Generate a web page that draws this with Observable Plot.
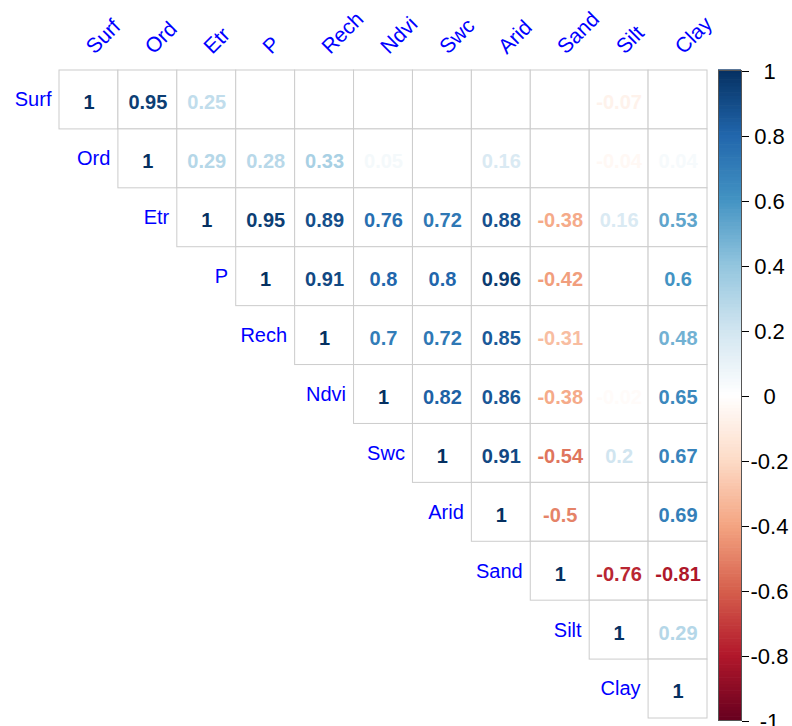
<!DOCTYPE html>
<html><head><meta charset="utf-8">
<script src="https://cdn.jsdelivr.net/npm/d3@7"></script>
<script src="https://cdn.jsdelivr.net/npm/@observablehq/plot@0.6"></script>
<style>
body{margin:0;background:#fff}
#wrap{position:relative;width:792px;height:726px;overflow:hidden}
#wrap svg{position:absolute;top:0}
</style>
</head><body><div id="wrap"></div>
<script>
const variables = ["Surf","Ord","Etr","P","Rech","Ndvi","Swc","Arid","Sand","Silt","Clay"];
// each row starts at its diagonal cell; null = blank cell (no value shown)
const rowSurf = [1, 0.95, 0.25, null, null, null, null, null, null, -0.07, null];
const rowOrd  = [1, 0.29, 0.28, 0.33, 0.05, null, 0.16, null, -0.04, 0.04];
const rowEtr  = [1, 0.95, 0.89, 0.76, 0.72, 0.88, -0.38, 0.16, 0.53];
const rowP    = [1, 0.91, 0.8, 0.8, 0.96, -0.42, null, 0.6];
const rowRech = [1, 0.7, 0.72, 0.85, -0.31, null, 0.48];
const rowNdvi = [1, 0.82, 0.86, -0.38, -0.02, 0.65];
const rowSwc  = [1, 0.91, -0.54, 0.2, 0.67];
const rowArid = [1, -0.5, null, 0.69];
const rowSand = [1, -0.76, -0.81];
const rowSilt = [1, 0.29];
const rowClay = [1];
const legendTicks = [-1, -0.8, -0.6, -0.4, -0.2, 0, 0.2, 0.4, 0.6, 0.8, 1];
const paletteColors = ["#67001F","#B2182B","#D6604D","#F4A582","#FDDBC7","#FFFFFF","#D1E5F0","#92C5DE","#4393C3","#2166AC","#053061"];

const rows = [rowSurf,rowOrd,rowEtr,rowP,rowRech,rowNdvi,rowSwc,rowArid,rowSand,rowSilt,rowClay];
const cells = rows.flatMap((r, i) => r.map((v, k) => ({row: variables[i], col: variables[i + k], value: v})));
const colorScale = {type: "linear", domain: legendTicks, range: paletteColors};

const main = Plot.plot({
  width: 792, height: 726,
  marginLeft: 59, marginRight: 85, marginTop: 70, marginBottom: 8,
  x: {domain: variables, padding: 0, round: false, axis: null},
  y: {domain: variables, padding: 0, round: false, axis: null},
  color: colorScale,
  style: {fontFamily: "Liberation Sans, Arial, sans-serif", background: "transparent"},
  marks: [
    Plot.cell(cells, {x: "col", y: "row", fill: "white", stroke: "#cccccc"}),
    Plot.text(cells.filter(d => d.value != null), {x: "col", y: "row", text: d => String(d.value), fill: "value", fontSize: 20, fontWeight: "bold", dy: 3}),
    Plot.text(variables, {x: d => d, y: d => d, text: d => d, textAnchor: "end", dx: -37.5, fill: "#0000FF", fontSize: 20}),
    Plot.text(variables, {x: d => d, frameAnchor: "top", text: d => d, rotate: -45, textAnchor: "start", dx: -5, dy: -26, fill: "#0000FF", fontSize: 21})
  ]
});

const gradientSteps = d3.range(-1, 1, 0.01);
const bar = Plot.plot({
  width: 75, height: 726,
  marginLeft: 0, marginRight: 52, marginTop: 70, marginBottom: 6,
  y: {domain: [-1, 1], axis: null},
  color: colorScale,
  style: {fontFamily: "Liberation Sans, Arial, sans-serif", background: "transparent", overflow: "visible"},
  marks: [
    Plot.rect(gradientSteps, {y1: d => d, y2: d => d + 0.012, fill: d => d + 0.005}),
    Plot.frame({stroke: "#555"}),
    Plot.axisY({ticks: legendTicks, anchor: "right", tickSize: 7, tickPadding: 21, textAnchor: "middle", fontSize: 22, tickFormat: d => String(d), dy: 1})
  ]
});
bar.style.left = "718px";

document.getElementById("wrap").append(main, bar);
</script>
</body></html>
